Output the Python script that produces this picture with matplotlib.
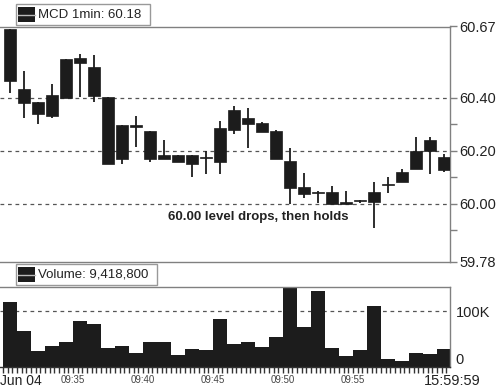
import numpy as np
import matplotlib
matplotlib.use("Agg")
import matplotlib.pyplot as plt
from matplotlib.patches import Rectangle
from matplotlib.ticker import FixedLocator

plt.rcParams['font.family'] = ['Liberation Sans', 'DejaVu Sans']

# one-minute candles, MCD, Jun 04 (all drawn solid black)
opens = [60.660, 60.434, 60.385, 60.332, 60.400, 60.551, 60.517, 60.404,
         60.298, 60.298, 60.276, 60.185, 60.185, 60.185, 60.177, 60.159,
         60.279, 60.325, 60.306, 60.276, 60.162, 60.064, 60.045, 60.045,
         60.004, 60.013, 60.008, 60.070, 60.083, 60.132, 60.242, 60.128]
closes = [60.464, 60.381, 60.340, 60.411, 60.547, 60.532, 60.408, 60.151,
          60.170, 60.291, 60.170, 60.170, 60.159, 60.151, 60.172, 60.287,
          60.355, 60.302, 60.272, 60.170, 60.060, 60.038, 60.040, 60.000,
          60.000, 60.009, 60.045, 60.074, 60.121, 60.200, 60.200, 60.177]
highs = [60.660, 60.502, 60.385, 60.453, 60.547, 60.566, 60.562, 60.404,
         60.298, 60.332, 60.276, 60.242, 60.185, 60.185, 60.200, 60.313,
         60.370, 60.362, 60.309, 60.279, 60.211, 60.117, 60.049, 60.068,
         60.049, 60.015, 60.083, 60.102, 60.132, 60.253, 60.253, 60.189]
lows = [60.419, 60.325, 60.302, 60.325, 60.400, 60.404, 60.385, 60.151,
        60.151, 60.215, 60.159, 60.170, 60.159, 60.102, 60.113, 60.113,
        60.264, 60.211, 60.272, 60.170, 60.000, 60.023, 60.004, 60.000,
        60.000, 60.004, 59.909, 60.042, 60.083, 60.132, 60.113, 60.121]
volumes = [116000, 64000, 29000, 37500, 45000, 82000, 77000, 34000,
           37500, 25000, 45000, 45000, 21000, 32000, 30000, 86000,
           41000, 45000, 36000, 54000, 150000, 71000, 136000, 34000,
           20000, 30000, 109000, 14000, 11000, 25000, 23000, 32000]

price_ticks = [59.78, 60.00, 60.20, 60.40, 60.67]
price_minor = [59.90, 60.10, 60.30]
price_grid = [60.00, 60.20, 60.40]
time_labels = ['09:35', '09:40', '09:45', '09:50', '09:55']
time_pos = [4.5, 9.5, 14.5, 19.5, 24.5]

W, H = 500, 392
fig = plt.figure(figsize=(W / 100, H / 100), dpi=100)
spine_c = '#808080'
dark = '#1c1c1c'

def fbox(x0, y0, x1, y1):
    # pixel box (from top-left) -> figure fraction rect
    return [x0 / W, 1 - y1 / H, (x1 - x0) / W, (y1 - y0) / H]

ax = fig.add_axes(fbox(0, 26.5, 450, 262))
axv = fig.add_axes(fbox(0, 287, 450, 367))

x = np.arange(len(opens))
o = np.array(opens)
c = np.array(closes)
bot = np.minimum(o, c)
hgt = np.maximum(np.abs(c - o), 0.006)

ax.vlines(x, lows, highs, color=dark, lw=1.3, zorder=2)
ax.bar(x, hgt, bottom=bot, width=0.8, color=dark, edgecolor=dark, lw=0.5, zorder=3)
for g in price_grid:
    ax.axhline(g, color='#555555', lw=0.9, dashes=(3, 3), zorder=1)

ax.set_xlim(-0.71, 31.43)
ax.set_ylim(59.78, 60.67)
ax.yaxis.tick_right()
ax.set_yticks(price_ticks)
ax.set_yticklabels(['%.2f' % v for v in price_ticks])
ax.yaxis.set_minor_locator(FixedLocator(price_minor))
ax.tick_params(axis='y', which='both', direction='out', length=5, width=1,
               color=spine_c, labelsize=10.5, labelcolor='#222222', pad=2)
ax.set_xticks([])
ax.spines['left'].set_visible(False)
for s in ['top', 'right', 'bottom']:
    ax.spines[s].set_color(spine_c)
    ax.spines[s].set_linewidth(1)

ax.text(17.7, 59.951, '60.00 level drops, then holds', ha='center', va='center',
        fontsize=9.5, fontweight='bold', color='#222222')

# volume panel
axv.bar(x, volumes, width=1.0, color=dark, lw=0, zorder=2)
axv.axhline(100000, color='#555555', lw=0.9, dashes=(3, 3), zorder=1)
axv.set_xlim(-0.71, 31.43)
axv.set_ylim(0, 143000)
axv.yaxis.tick_right()
axv.set_yticks([0, 100000])
axv.set_yticklabels(['0', '100K'])
axv.tick_params(axis='y', length=0, labelsize=10.5, labelcolor='#222222', pad=4)
axv.get_yticklabels()[0].set_verticalalignment('bottom')
axv.set_xticks(time_pos)
axv.set_xticklabels(time_labels)
axv.xaxis.set_minor_locator(FixedLocator(np.arange(-0.5, 31.5, 1 / 3)))
axv.tick_params(axis='x', which='both', direction='out', length=4, width=1,
                color='#333333', labelsize=7, labelcolor='#444444', pad=2)
axv.spines['left'].set_visible(False)
for s in ['top', 'right', 'bottom']:
    axv.spines[s].set_color(spine_c)
    axv.spines[s].set_linewidth(1)
axv.spines['bottom'].set_color('#333333')

fig.text(0 / W, 1 - 381 / H, 'Jun 04', ha='left', va='center', fontsize=10, color='#222222')
fig.text(481 / W, 1 - 381 / H, '15:59:59', ha='right', va='center', fontsize=10.5, color='#222222')

def legend_box(x0, y0, x1, y1, label):
    fig.patches.append(Rectangle(fbox(x0, y0, x1, y1)[:2], (x1 - x0) / W, (y1 - y0) / H,
                                 transform=fig.transFigure, facecolor='white',
                                 edgecolor='#999999', lw=1))
    r = fbox(x0 + 2, y0 + 3, x0 + 19, y1 - 3)
    fig.patches.append(Rectangle(r[:2], r[2], r[3], transform=fig.transFigure,
                                 facecolor=dark, edgecolor=dark, lw=0))
    ym = (y0 + y1) / 2
    fig.lines.append(plt.Line2D([(x0 + 2) / W, (x0 + 19) / W], [1 - ym / H] * 2,
                                transform=fig.transFigure, color='#bbbbbb', lw=1))
    fig.text((x0 + 22) / W, 1 - ym / H, label, ha='left', va='center',
             fontsize=9.5, color='#222222')

legend_box(16, 4, 150, 25, 'MCD 1min: 60.18')
legend_box(16, 264, 157, 285, 'Volume: 9,418,800')

fig.savefig('out.png', dpi=100)
